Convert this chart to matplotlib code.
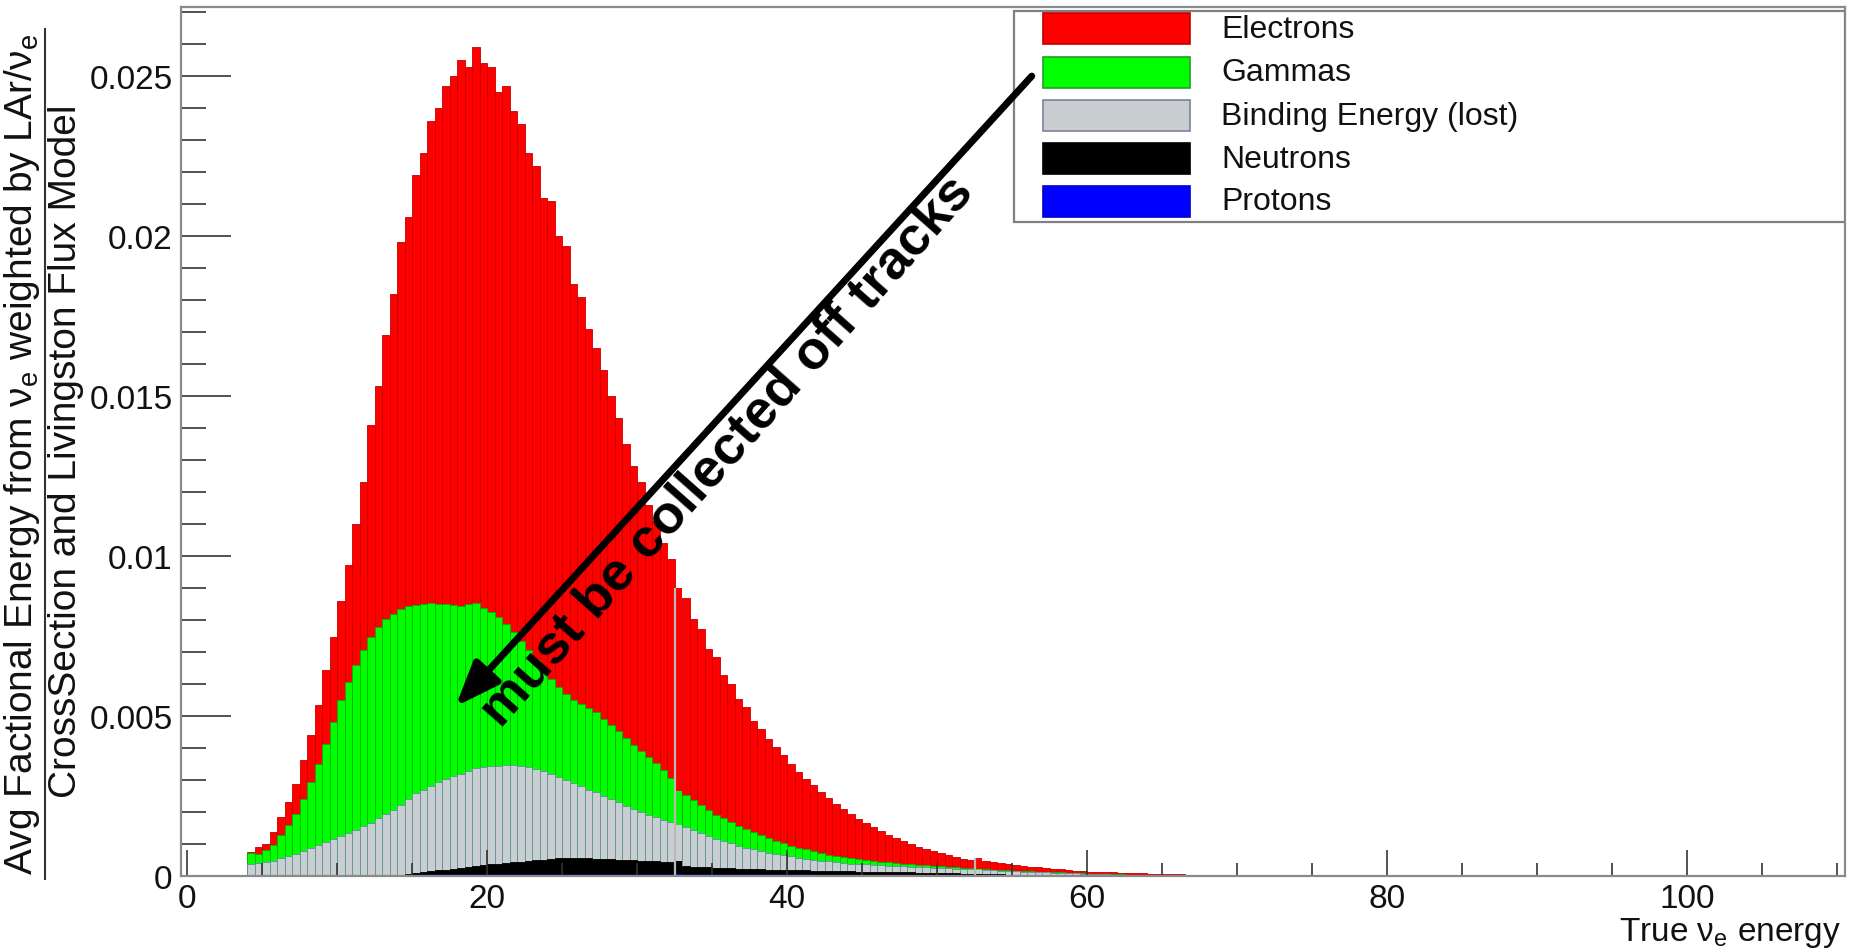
import numpy as np
import matplotlib
matplotlib.use("Agg")
import matplotlib.pyplot as plt
from matplotlib.patches import Rectangle
from matplotlib.lines import Line2D
from matplotlib.ticker import MultipleLocator, FuncFormatter

plt.rcParams["font.family"] = ["Liberation Sans", "DejaVu Sans"]
plt.rcParams["mathtext.default"] = "regular"

# 0.5 MeV bins, first bin starts at 4.0 MeV
bin_lo = 4.0
bin_w = 0.5
hist_range = (0, 110)
odd_bins = [32.5, 52.5]  # bins drawn without outline in the original

# THStack levels (each one drawn from zero, top layer first), one value per bin 4.0 ... 72.0
stack_electrons = [
    0.00075, 0.00090, 0.00100, 0.00138, 0.00184, 0.00231, 0.00289, 0.00361, 0.00442, 0.00535,
    0.00643, 0.00747, 0.00861, 0.00971, 0.0110, 0.0123, 0.0141, 0.0153, 0.0169, 0.0182,
    0.0198, 0.0206, 0.0219, 0.0226, 0.0236, 0.0240, 0.0247, 0.0250, 0.0255, 0.0253,
    0.0259, 0.0254, 0.0253, 0.0245, 0.0247, 0.0239, 0.0235, 0.0226, 0.0222, 0.0212,
    0.0211, 0.0200, 0.0197, 0.0185, 0.0181, 0.0171, 0.0165, 0.0158, 0.0150, 0.0143,
    0.0135, 0.0128, 0.0123, 0.0116, 0.0111, 0.0104, 0.0099, 0.0090, 0.00869, 0.00804,
    0.00773, 0.00710, 0.00684, 0.00627, 0.00601, 0.00554, 0.00528, 0.00486, 0.00460, 0.00429,
    0.00403, 0.00377, 0.00351, 0.00325, 0.00304, 0.00283, 0.00263, 0.00244, 0.00226, 0.00210,
    0.00195, 0.00179, 0.00167, 0.00153, 0.00140, 0.00129, 0.00119, 0.00108, 0.00099, 0.00091,
    0.00083, 0.00077, 0.00071, 0.00065, 0.00059, 0.00054, 0.00050, 0.00056, 0.00047, 0.00044,
    0.00041, 0.00038, 0.00035, 0.00032, 0.00029, 0.00027, 0.00025, 0.00023, 0.00021, 0.00019,
    0.00017, 0.00016, 0.00014, 0.00013, 0.00012, 0.00011, 0.00010, 0.00009, 0.00008, 0.00008,
    0.00007, 0.00006, 0.00006, 0.00005, 0.00005, 0.00004, 0.00004, 0.00004, 0.00003, 0.00003,
    0.00003, 0.00003, 0.00002, 0.00002, 0.00002, 0.00002, 0.00001,
]
stack_gammas = [
    0.00073, 0.00070, 0.00080, 0.00096, 0.00127, 0.00158, 0.00195, 0.00242, 0.00294, 0.00351,
    0.00414, 0.00481, 0.00549, 0.00606, 0.00658, 0.00705, 0.00747, 0.00778, 0.00804, 0.00820,
    0.00835, 0.00844, 0.00848, 0.00851, 0.00854, 0.00850, 0.00850, 0.00846, 0.00844, 0.00850,
    0.00854, 0.00838, 0.00825, 0.00810, 0.00789, 0.00763, 0.00736, 0.00705, 0.00674, 0.00643,
    0.00615, 0.00590, 0.00568, 0.00550, 0.00538, 0.00525, 0.00513, 0.00492, 0.00471, 0.00452,
    0.00430, 0.00410, 0.00390, 0.00372, 0.00352, 0.00330, 0.00305, 0.00265, 0.00252, 0.00238,
    0.00222, 0.00206, 0.00192, 0.00180, 0.00168, 0.00157, 0.00146, 0.00136, 0.00127, 0.00118,
    0.00110, 0.00102, 0.00095, 0.00089, 0.00083, 0.00077, 0.00072, 0.00067, 0.00063, 0.00059,
    0.00056, 0.00053, 0.00050, 0.00047, 0.00045, 0.00043, 0.00041, 0.00039, 0.00037, 0.00035,
    0.00033, 0.00031, 0.00030, 0.00028, 0.00027, 0.00025, 0.00024, 0.00023, 0.00022, 0.00020,
    0.00019, 0.00018, 0.00017, 0.00016, 0.00015, 0.00014, 0.00013, 0.00012, 0.00011, 0.00010,
    0.00009, 0.00008, 0.00007, 0.00007, 0.00006, 0.00005, 0.00005, 0.00004, 0.00004, 0.00003,
    0.00003, 0.00003, 0.00002, 0.00002, 0.00002, 0.00001, 0.00001, 0.00001, 0.00001, 0.00001,
    0.00001, 0.00001, 0, 0, 0, 0, 0,
]
stack_binding = [
    0.00039, 0.00041, 0.00044, 0.00048, 0.00055, 0.00062, 0.00070, 0.00078, 0.00087, 0.00097,
    0.00106, 0.00115, 0.00124, 0.00134, 0.00144, 0.00155, 0.00167, 0.00180, 0.00193, 0.00207,
    0.00222, 0.00240, 0.00258, 0.00270, 0.00282, 0.00293, 0.00303, 0.00312, 0.00320, 0.00328,
    0.00336, 0.00341, 0.00343, 0.00345, 0.00347, 0.00347, 0.00345, 0.00340, 0.00334, 0.00327,
    0.00319, 0.00310, 0.00300, 0.00290, 0.00280, 0.00270, 0.00261, 0.00251, 0.00240, 0.00230,
    0.00220, 0.00210, 0.00201, 0.00192, 0.00184, 0.00176, 0.00168, 0.00160, 0.00152, 0.00143,
    0.00134, 0.00125, 0.00117, 0.00110, 0.00102, 0.00095, 0.00089, 0.00083, 0.00078, 0.00073,
    0.00069, 0.00065, 0.00061, 0.00057, 0.00054, 0.00051, 0.00048, 0.00046, 0.00043, 0.00041,
    0.00039, 0.00038, 0.00036, 0.00035, 0.00033, 0.00032, 0.00031, 0.00030, 0.00029, 0.00028,
    0.00027, 0.00026, 0.00025, 0.00024, 0.00023, 0.00022, 0.00021, 0.00020, 0.00019, 0.00018,
    0.00017, 0.00016, 0.00015, 0.00014, 0.00013, 0.00012, 0.00011, 0.00010, 0.00009, 0.00009,
    0.00008, 0.00007, 0.00006, 0.00006, 0.00005, 0.00004, 0.00004, 0.00003, 0.00003, 0.00002,
    0.00002, 0.00002, 0.00001, 0.00001, 0.00001, 0, 0, 0, 0, 0,
    0, 0, 0, 0, 0, 0, 0,
]
stack_neutrons = [
    0, 0, 0, 0, 0, 0, 0, 0, 0, 0,
    0, 0, 0, 0, 0, 0, 0, 0, 0, 0,
    0.00003, 0.00006, 0.00009, 0.00012, 0.00015, 0.00018, 0.00020, 0.00022, 0.00024, 0.00027,
    0.00030, 0.00033, 0.00036, 0.00039, 0.00041, 0.00043, 0.00045, 0.00047, 0.00049, 0.00051,
    0.00053, 0.00055, 0.00056, 0.00056, 0.00056, 0.00055, 0.00054, 0.00053, 0.00052, 0.00051,
    0.00050, 0.00049, 0.00048, 0.00047, 0.00046, 0.00045, 0.00044, 0.00046, 0.00030, 0.00029,
    0.00028, 0.00027, 0.00026, 0.00025, 0.00024, 0.00023, 0.00022, 0.00022, 0.00021, 0.00020,
    0.00020, 0.00019, 0.00019, 0.00018, 0.00018, 0.00017, 0.00017, 0.00016, 0.00016, 0.00015,
    0.00015, 0.00014, 0.00014, 0.00013, 0.00013, 0.00012, 0.00012, 0.00011, 0.00011, 0.00010,
    0.00010, 0.00009, 0.00009, 0.00008, 0.00008, 0.00007, 0.00007, 0.00006, 0.00006, 0.00005,
    0.00005, 0.00004, 0.00004, 0.00003, 0.00003, 0.00002, 0.00002, 0.00001, 0.00001, 0,
    0, 0, 0, 0, 0, 0, 0, 0, 0, 0,
    0, 0, 0, 0, 0, 0, 0, 0, 0, 0,
    0, 0, 0, 0, 0, 0, 0,
]
stack_protons = [
    0, 0, 0, 0, 0, 0, 0, 0, 0, 0,
    0, 0, 0, 0, 0, 0, 0, 0, 0, 0,
    0.00002, 0.00003, 0.00004, 0.00005, 0.00006, 0.00006, 0.00007, 0.00007, 0.00007, 0.00007,
    0.00007, 0.00007, 0.00007, 0.00007, 0.00007, 0.00007, 0.00007, 0.00007, 0.00007, 0.00007,
    0.00007, 0.00007, 0.00007, 0.00007, 0.00007, 0.00007, 0.00007, 0.00007, 0.00007, 0.00007,
    0.00007, 0.00007, 0.00007, 0.00007, 0.00007, 0.00007, 0.00007, 0.00007, 0.00006, 0.00006,
    0.00006, 0.00006, 0.00006, 0.00006, 0.00006, 0.00005, 0.00005, 0.00005, 0.00005, 0.00005,
    0.00005, 0.00005, 0.00005, 0.00005, 0.00005, 0.00004, 0.00004, 0.00004, 0.00004, 0.00004,
    0.00004, 0.00004, 0.00004, 0.00004, 0.00004, 0.00003, 0.00003, 0.00003, 0.00003, 0.00003,
    0.00003, 0.00003, 0.00003, 0.00003, 0.00003, 0.00002, 0.00002, 0.00002, 0.00002, 0.00002,
    0.00002, 0.00002, 0.00001, 0.00001, 0.00001, 0.00001, 0.00001, 0.00001, 0.00001, 0,
    0, 0, 0, 0, 0, 0, 0, 0, 0, 0,
    0, 0, 0, 0, 0, 0, 0, 0, 0, 0,
    0, 0, 0, 0, 0, 0, 0,
]

labels = ["Electrons", "Gammas", "Binding Energy (lost)", "Neutrons", "Protons"]
levels = [stack_electrons, stack_gammas, stack_binding, stack_neutrons, stack_protons]
fills = ["#ff0000", "#00ff00", "#c9ced0", "#000000", "#0000ff"]
edges = ["#c40000", "#00b400", "#5f9298", "#000000", "#000050"]
swatch_edges = ["#c00000", "#22a022", "#8080a0", "#000000", "#0000d0"]

W, H = 1862, 953


def fx(px):
    return px / W


def fy(py):
    return 1 - py / H


fig = plt.figure(figsize=(W / 100, H / 100), dpi=100)
ax = fig.add_axes([fx(181), fy(877), fx(1845) - fx(181), fy(8) - fy(877)])

lo = bin_lo + bin_w * np.arange(len(stack_electrons))
odd_idx = [int(round((e - bin_lo) / bin_w)) for e in odd_bins]

for vals, fc, ec in zip(levels, fills, edges):
    bars = ax.bar(lo, vals, width=bin_w, align="edge", color=fc, edgecolor=ec,
                  linewidth=0.6, zorder=1)
    for i in odd_idx:
        bars[i].set_linewidth(0)

# light seam at the left of the odd bins
ax.vlines([lo[i] for i in odd_idx], 0, [stack_electrons[i] for i in odd_idx],
          color="#b8b8b8", lw=1.6, zorder=2)

# empty-bin line of the histogram
ax.hlines(0, hist_range[0], hist_range[1], color="#a0a0e6", lw=2, zorder=2)

ax.set_xlim(-0.4, 110.5)
ax.set_ylim(0, 0.02716)

ax.xaxis.set_major_locator(MultipleLocator(20))
ax.xaxis.set_minor_locator(MultipleLocator(5))
ax.yaxis.set_major_locator(MultipleLocator(0.005))
ax.yaxis.set_minor_locator(MultipleLocator(0.001))
ax.yaxis.set_major_formatter(FuncFormatter(lambda v, p: "0" if abs(v) < 1e-12 else f"{v:g}"))

ax.tick_params(which="both", direction="in", top=False, right=False, color="#333333", width=1.2,
               labelsize=24, labelcolor="#111111")
ax.tick_params(axis="y", which="major", length=36, pad=6)
ax.tick_params(axis="y", which="minor", length=18)
ax.tick_params(axis="x", which="major", length=19, pad=5)
ax.tick_params(axis="x", which="minor", length=9.5)

for s in ax.spines.values():
    s.set_color("#8a8a8a")
    s.set_linewidth(1.6)

# arrow + note
ax.annotate("", xy=(17.9, 0.0053), xytext=(56.3, 0.0250),
            arrowprops=dict(arrowstyle="-|>,head_length=0.9,head_width=0.35", lw=5,
                            color="black", mutation_scale=30, shrinkA=0, shrinkB=0),
            zorder=8)
ax.text(36.0, 0.0133, "must be collected off tracks", rotation=48.5, rotation_mode="anchor",
        ha="center", va="center", fontsize=39, fontweight="bold", color="black", zorder=7)

# legend box (ROOT TLegend style)
ax.add_patch(Rectangle((fx(1014), fy(223)), fx(1845) - fx(1014), fy(12) - fy(223),
                       transform=fig.transFigure, facecolor="white", edgecolor="#808080",
                       lw=1.6, zorder=5))
row_y = [29.5, 73, 116.5, 159.5, 202.5]
for lab, fc, ec, ry in zip(labels, fills, swatch_edges, row_y):
    ax.add_patch(Rectangle((fx(1043), fy(ry + 15.5)), fx(1190) - fx(1043), fy(ry - 15.5) - fy(ry + 15.5),
                           transform=fig.transFigure, facecolor=fc, edgecolor=ec, lw=1.2, zorder=6))
    ax.text(fx(1221), fy(ry), lab, transform=fig.transFigure, ha="left", va="center",
            fontsize=23, color="#111111", zorder=6)

# y title as a fraction, x title at right end
fig.text(fx(22), fy(455), "Avg Factional Energy from ν$_{e}$ weighted by LAr/ν$_{e}$",
         rotation=90, ha="center", va="center", fontsize=28, color="#111111")
fig.add_artist(Line2D([fx(45), fx(45)], [fy(30), fy(880)], color="#333333", lw=1.5))
fig.text(fx(66), fy(451), "CrossSection and Livingston Flux Model",
         rotation=90, ha="center", va="center", fontsize=28, color="#111111")
fig.text(fx(1841), fy(933), "True ν$_{e}$ energy", ha="right", va="center",
         fontsize=24, color="#111111")

fig.savefig("out.png", dpi=100)
